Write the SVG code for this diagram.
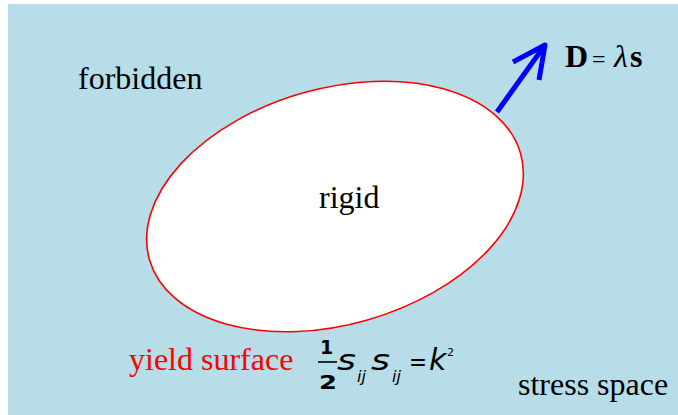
<svg xmlns="http://www.w3.org/2000/svg" width="678" height="415" viewBox="0 0 678 415">
<style>
.serif{font-family:"Liberation Serif","Times New Roman",serif;font-size:32px;fill:#000}
.math{font-family:"DejaVu Sans","Liberation Sans",sans-serif;fill:#000}
.arrow{fill:none;stroke:#0000FF;stroke-width:5;stroke-linejoin:round}
</style>
<rect id="background" x="8" y="4" width="670" height="411" fill="#B6DDE8"/>
<g id="rigid-region">
<ellipse cx="335" cy="206.5" rx="193" ry="118" transform="rotate(-16 335 206.5)" fill="#FFFFFF" stroke="#FF0000" stroke-width="1.6"/>
<text class="serif" x="319" y="208">rigid</text>
</g>
<g id="forbidden"><text class="serif" x="78" y="89">forbidden</text></g>
<g id="stress-space"><text class="serif" x="518" y="395">stress space</text></g>
<g id="yield-surface">
<text class="serif" x="129" y="370" style="fill:#FF0000">yield surface</text>
<g id="yield-formula">
<text class="math" x="320" y="354" font-size="19" font-weight="bold">1</text>
<line x1="318" y1="362" x2="337" y2="362" stroke="#000" stroke-width="1.6"/>
<text class="math" x="319" y="389" font-size="20" font-weight="bold" textLength="18" lengthAdjust="spacingAndGlyphs">2</text>
<text class="math" x="337" y="370" font-size="28" font-style="italic" textLength="19" lengthAdjust="spacingAndGlyphs">s</text>
<text class="math" x="357" y="382" font-size="16" font-style="italic">ij</text>
<text class="math" x="371" y="370" font-size="28" font-style="italic" textLength="19" lengthAdjust="spacingAndGlyphs">s</text>
<text class="math" x="392" y="382" font-size="16" font-style="italic">ij</text>
<text class="math" x="409" y="370" font-size="23" textLength="18" lengthAdjust="spacingAndGlyphs">=</text>
<text class="math" x="429" y="370" font-size="30" font-style="italic">k</text>
<text class="math" x="447" y="356" font-size="11">2</text>
</g>
</g>
<g id="connectors">
<polyline class="arrow" points="497,112 545,45"/>
<polyline class="arrow" points="513,62 545,45 539,80"/>
</g>
<g id="flow-label">
<text class="serif" x="565" y="67" font-weight="bold">D</text>
<text class="serif" x="592" y="67" style="font-size:24px">=</text>
<text class="serif" x="614" y="67" font-style="italic">λ</text>
<text class="serif" x="630" y="67" font-weight="bold">s</text>
</g>
</svg>
